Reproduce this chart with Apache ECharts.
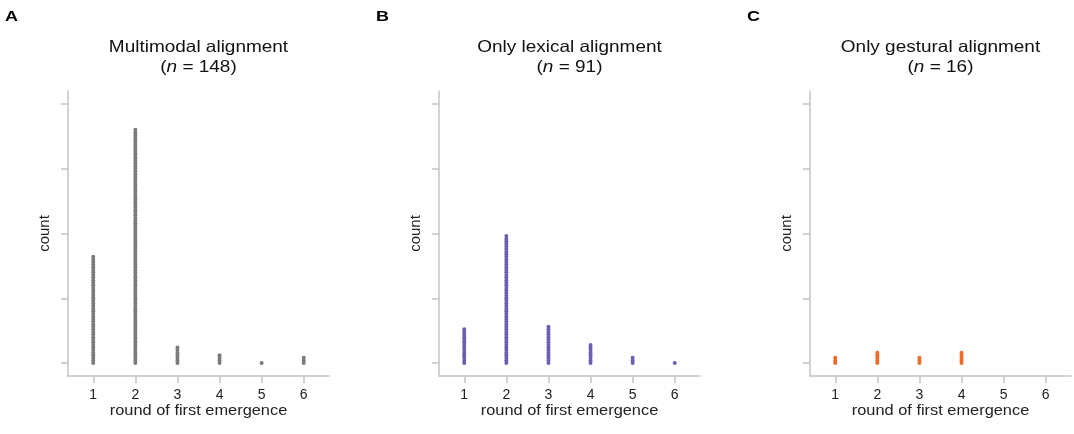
<!DOCTYPE html>
<html><head><meta charset="utf-8">
<script src="https://cdn.jsdelivr.net/npm/echarts@6/dist/echarts.min.js"></script>
<style>html,body{margin:0;padding:0;background:#fff}#c{width:1074px;height:434px}</style>
</head><body><div id="c"></div>
<script>
// Data
const rounds = [1, 2, 3, 4, 5, 6];
const yTicks = [0, 25, 50, 75, 100];
const panelLetters = ['A', 'B', 'C'];
const panelTitles = ['Multimodal alignment', 'Only lexical alignment', 'Only gestural alignment'];
const panelN = [148, 91, 16];
const xAxisTitle = 'round of first emergence';
const yAxisTitle = 'count';
const multimodalCounts = [42, 91, 7, 4, 1, 3];
const lexicalCounts = [14, 50, 15, 8, 3, 1];
const gesturalCounts = [3, 5, 3, 5, 0, 0];

const allCounts = [multimodalCounts, lexicalCounts, gesturalCounts];
const colors = ['#7b7b7b', '#6a5fb4', '#f26a25'];
const gridLefts = [68, 439, 810];
const gridW = 261;
const gridTop = 91, gridBottomY = 376;
const font = 'Liberation Sans, Arial, sans-serif';
const axisColor = '#c4c4c4';

function dots(counts) {
  const out = [];
  counts.forEach((c, k) => { for (let i = 0; i < c; i++) out.push([rounds[k], i]); });
  return out;
}

const grid = [], xAxis = [], yAxis = [], series = [], graphic = [];
gridLefts.forEach((L, p) => {
  grid.push({ left: L, top: gridTop, width: gridW, height: gridBottomY - gridTop });
  xAxis.push({
    type: 'value', gridIndex: p, min: 0.4, max: 6.6,
    axisLine: { show: true, onZero: false, lineStyle: { color: axisColor, width: 1.5 } },
    axisTick: { show: true, length: 7, customValues: rounds, lineStyle: { color: axisColor, width: 1.5 } },
    axisLabel: { customValues: rounds, fontFamily: font, fontSize: 14, color: '#222', margin: 12 },
    splitLine: { show: false }
  });
  yAxis.push({
    type: 'value', gridIndex: p, min: -5, max: 105,
    name: yAxisTitle, nameLocation: 'middle', nameGap: 16,
    nameTextStyle: { fontFamily: font, fontSize: 15, color: '#222' },
    axisLine: { show: true, onZero: false, lineStyle: { color: axisColor, width: 1.5 } },
    axisTick: { show: true, inside: false, length: 7, customValues: yTicks, lineStyle: { color: axisColor, width: 1.5 } },
    axisLabel: { show: false },
    splitLine: { show: false }
  });
  series.push({
    type: 'scatter', xAxisIndex: p, yAxisIndex: p,
    data: dots(allCounts[p]), symbol: 'circle', symbolSize: 4,
    itemStyle: { color: colors[p], opacity: 1 },
    silent: true, animation: false
  });
  const cx = L + gridW / 2;
  graphic.push({
    type: 'text', x: cx, y: 38, scaleX: 1.15,
    style: {
      text: panelTitles[p] + '\n({i|n} = ' + panelN[p] + ')',
      align: 'center', verticalAlign: 'top',
      fontFamily: font, fontSize: 16.5, lineHeight: 19.5, fill: '#111',
      rich: { i: { fontStyle: 'italic', fontFamily: font, fontSize: 16.5, lineHeight: 19.5, fill: '#111' } }
    }
  });
  graphic.push({
    type: 'text', x: cx, y: 404, scaleX: 1.17,
    style: { text: xAxisTitle, align: 'center', verticalAlign: 'top', fontFamily: font, fontSize: 14, fill: '#222' }
  });
  graphic.push({
    type: 'text', x: L - 63, y: 9, scaleX: 1.2,
    style: { text: panelLetters[p], fontFamily: font, fontSize: 15, fontWeight: 'bold', fill: '#000' }
  });
});

const chart = echarts.init(document.getElementById('c'), null, { renderer: 'canvas' });
chart.setOption({ animation: false, grid, xAxis, yAxis, series, graphic });
</script></body></html>
